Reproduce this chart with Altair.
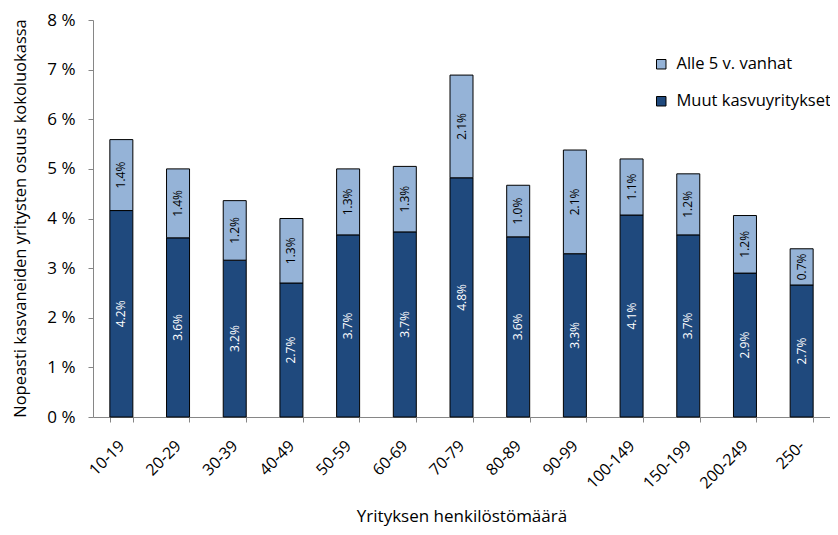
import altair as alt
import pandas as pd

categories = ["10-19", "20-29", "30-39", "40-49", "50-59", "60-69", "70-79",
              "80-89", "90-99", "100-149", "150-199", "200-249", "250-"]
muut = [4.16, 3.61, 3.16, 2.70, 3.67, 3.73, 4.82, 3.63, 3.29, 4.07, 3.67, 2.90, 2.66]
alle = [1.43, 1.39, 1.20, 1.30, 1.33, 1.32, 2.07, 1.04, 2.09, 1.13, 1.23, 1.16, 0.73]

series = ["Alle 5 v. vanhat", "Muut kasvuyritykset"]
colors = ["#95B3D7", "#1F497D"]

rows = []
for i, c in enumerate(categories):
    rows.append({"cat": c, "series": series[1], "value": muut[i], "ord": 0})
    rows.append({"cat": c, "series": series[0], "value": alle[i], "ord": 1})
df = pd.DataFrame(rows)

FONT = "Open Sans"

base = alt.Chart(df).transform_stack(
    stack="value", groupby=["cat"], as_=["y0", "y1"],
    sort=[alt.SortField("ord", order="ascending")]
).transform_calculate(
    mid="(datum.y0 + datum.y1) / 2",
    lab="format(datum.value, '.1f') + '%'"
)

x_enc = alt.X("cat:N", sort=categories, title="Yrityksen henkilöstömäärä",
              scale=alt.Scale(paddingInner=0.6, paddingOuter=0.3),
              axis=alt.Axis(labelAngle=-45, labelAlign="right", labelBaseline="middle",
                            labelPadding=21, tickBand="extent", tickSize=5,
                            labelFontSize=16, titleFontSize=17, titleY=104,
                            titleBaseline="alphabetic",
                            titleFontWeight="normal", labelColor="black",
                            domainColor="#868686", tickColor="#868686"))

bars = base.mark_bar(stroke="black", strokeWidth=1, size=23).encode(
    x=x_enc,
    y=alt.Y("y0:Q", title="Nopeasti kasvaneiden yritysten osuus kokoluokassa",
            scale=alt.Scale(domain=[0, 8], nice=False),
            axis=alt.Axis(values=[0, 1, 2, 3, 4, 5, 6, 7, 8], labelExpr="datum.value + ' %'",
                          grid=False, tickSize=5, labelPadding=13, labelFontSize=17,
                          titleFontSize=16.5, titleFontWeight="normal", titleX=-73,
                          titleY=198, titleAlign="center", titleBaseline="middle",
                          labelColor="black", domainColor="#868686", tickColor="#868686")),
    y2="y1:Q",
    color=alt.Color("series:N", scale=alt.Scale(domain=series, range=colors),
                    legend=alt.Legend(title=None, orient="none", legendX=560, legendY=36,
                                      symbolType="square", symbolSize=90,
                                      symbolStrokeColor="black", symbolStrokeWidth=1,
                                      labelFontSize=16.5, labelLimit=300, rowPadding=20,
                                      labelColor="black", labelOffset=7)),
)

text = base.mark_text(angle=270, fontSize=12, font=FONT, baseline="middle", align="center").encode(
    x=alt.X("cat:N", sort=categories),
    y=alt.Y("mid:Q"),
    text="lab:N",
    color=alt.Color("series:N", scale=alt.Scale(domain=series, range=["black", "white"]), legend=None),
)

chart = alt.layer(bars, text).resolve_scale(color="independent").properties(
    width=737, height=397,
    autosize=alt.AutoSizeParams(type="none"),
    padding={"left": 85, "top": 12, "right": 0, "bottom": 110},
).configure(font=FONT).configure_view(stroke=None).configure_axis(
    labelFont=FONT, titleFont=FONT, titleColor="black"
).configure_legend(labelFont=FONT)

chart.save("out.html", embed_options={"renderer": "svg", "actions": False})
